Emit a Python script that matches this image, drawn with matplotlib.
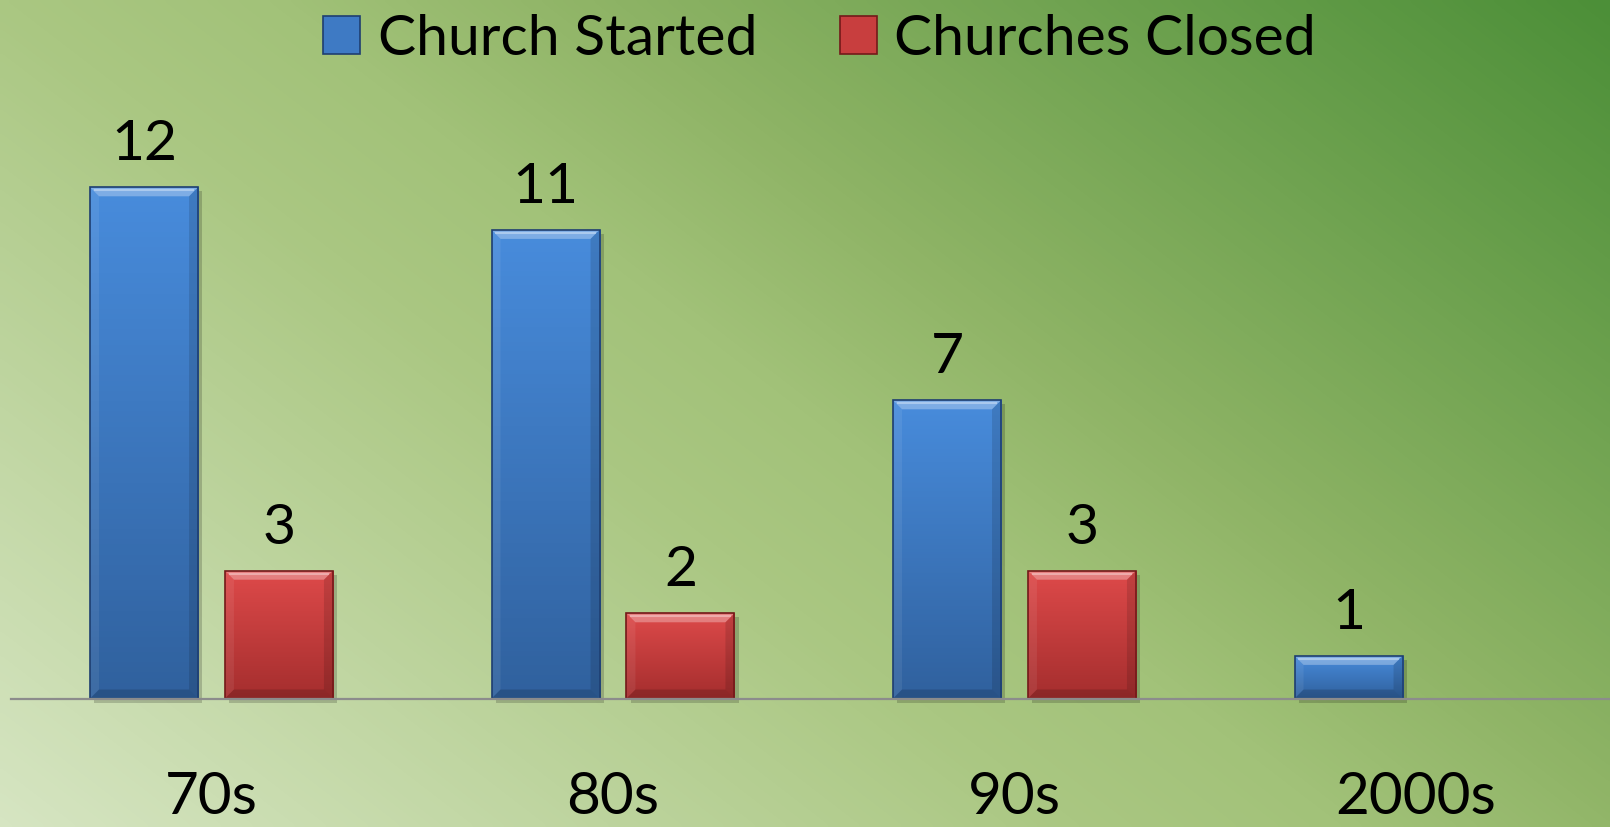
import numpy as np
import matplotlib.pyplot as plt
import matplotlib.transforms as mtransforms
from matplotlib.colors import LinearSegmentedColormap
from matplotlib.patches import Polygon, Rectangle, Patch

categories = ["70s", "80s", "90s", "2000s"]
started = [12, 11, 7, 1]
closed = [3, 2, 3, np.nan]
series_names = ["Church Started", "Churches Closed"]

plt.rcParams['font.family'] = ['Lato', 'DejaVu Sans']


def rgb(r, g, b):
    return (r / 255, g / 255, b / 255)


W, H, DPI = 1610, 827, 100
fig = plt.figure(figsize=(W / DPI, H / DPI), dpi=DPI)

# gradient background, light bottom-left -> dark green top-right
bg = fig.add_axes([0, 0, 1, 1], zorder=-10)
bg.axis('off')
xx, yy = np.meshgrid(np.linspace(0, 1, 400), np.linspace(0, 1, 200))
t = 0.6 * xx + 0.4 * yy
bg_cmap = LinearSegmentedColormap.from_list('bg', [
    (0.0, rgb(214, 229, 194)),
    (0.4, rgb(170, 199, 130)),
    (0.5, rgb(162, 194, 121)),
    (0.62, rgb(143, 180, 102)),
    (1.0, rgb(76, 143, 56)),
])
bg.imshow(t, cmap=bg_cmap, origin='lower', extent=[0, 1, 0, 1],
          aspect='auto', vmin=0, vmax=1, interpolation='bicubic')
bg.set_xlim(0, 1)
bg.set_ylim(0, 1)

# main axes: 401.5 px per category, 42.6 px per unit
px_x = 401.5
px_y = 42.6
ax = fig.add_axes([10.75 / W, (H - 698.5) / H, 4 * px_x / W, 14 * px_y / H])
ax.patch.set_alpha(0)

x = np.arange(len(categories))
width = 0.269
offset = 0.168

styles = [
    dict(top=rgb(72, 140, 220), bottom=rgb(48, 97, 158), edge=rgb(30, 62, 112)),
    dict(top=rgb(222, 74, 74), bottom=rgb(165, 46, 46), edge=rgb(115, 25, 25)),
]

dx = 9 / px_x
dy = 9 / px_y
shadow_tr = ax.transData + mtransforms.ScaledTranslation(3 / 72, -3 / 72, fig.dpi_scale_trans)

for i, (vals, st) in enumerate(zip([started, closed], styles)):
    pos = x + (-offset if i == 0 else offset)
    heights = [0 if np.isnan(v) else v for v in vals]
    bars = ax.bar(pos, heights, width, color='none', edgecolor=st['edge'],
                  linewidth=1.2, zorder=6)
    cm = LinearSegmentedColormap.from_list(f's{i}', [st['bottom'], st['top']])
    for r, v in zip(bars, vals):
        if np.isnan(v):
            r.set_visible(False)
            continue
        x0, w, h = r.get_x(), r.get_width(), r.get_height()
        ax.add_patch(Rectangle((x0, 0), w, h, transform=shadow_tr, fc='black',
                               alpha=0.18, ec='none', zorder=2, clip_on=False))
        im = ax.imshow(np.linspace(0, 1, 100).reshape(-1, 1), cmap=cm,
                       extent=(x0, x0 + w, 0, h), origin='lower',
                       aspect='auto', zorder=3)
        im.set_clip_path(r)
        # bevels
        ax.add_patch(Polygon([(x0, h), (x0 + w, h), (x0 + w - dx, h - dy), (x0 + dx, h - dy)],
                             fc='white', alpha=0.3, ec='none', zorder=4))
        ax.add_patch(Polygon([(x0, 0), (x0, h), (x0 + dx, h - dy), (x0 + dx, dy)],
                             fc='white', alpha=0.07, ec='none', zorder=4))
        ax.add_patch(Polygon([(x0 + w, 0), (x0 + w, h), (x0 + w - dx, h - dy), (x0 + w - dx, dy)],
                             fc='black', alpha=0.12, ec='none', zorder=4))
        ax.add_patch(Polygon([(x0, 0), (x0 + w, 0), (x0 + w - dx, dy), (x0 + dx, dy)],
                             fc='black', alpha=0.15, ec='none', zorder=4))
        ax.plot([x0 + dx * 0.4, x0 + w - dx * 0.4], [h - dy * 0.35, h - dy * 0.35],
                color='white', alpha=0.35, lw=1.5, zorder=5, solid_capstyle='butt')
        ax.annotate(f"{v:g}", (x0 + w / 2, h), xytext=(0, 19.4),
                    textcoords='offset points', ha='center', va='baseline',
                    fontsize=41, color='black')

ax.set_xlim(-0.5, len(categories) - 0.5)
ax.set_ylim(0, 14)
ax.set_xticks(x, categories, fontsize=42)
ax.set_yticks([])
ax.tick_params(axis='x', length=0, pad=52)
for s in ['top', 'left', 'right']:
    ax.spines[s].set_visible(False)
ax.spines['bottom'].set_color(rgb(140, 140, 140))
ax.spines['bottom'].set_linewidth(1.6)
ax.spines['bottom'].set_zorder(7)

handles = [Patch(fc=rgb(62, 122, 196), ec=styles[0]['edge'], lw=1.2),
           Patch(fc=rgb(200, 62, 62), ec=styles[1]['edge'], lw=1.2)]
fig.legend(handles, series_names, loc='center', bbox_to_anchor=(0.509, 0.952),
           ncol=2, frameon=False, fontsize=41, handlelength=0.65,
           handleheight=0.65, handletextpad=0.3, columnspacing=1.45,
           borderpad=0)

fig.savefig('out.png', dpi=DPI)
